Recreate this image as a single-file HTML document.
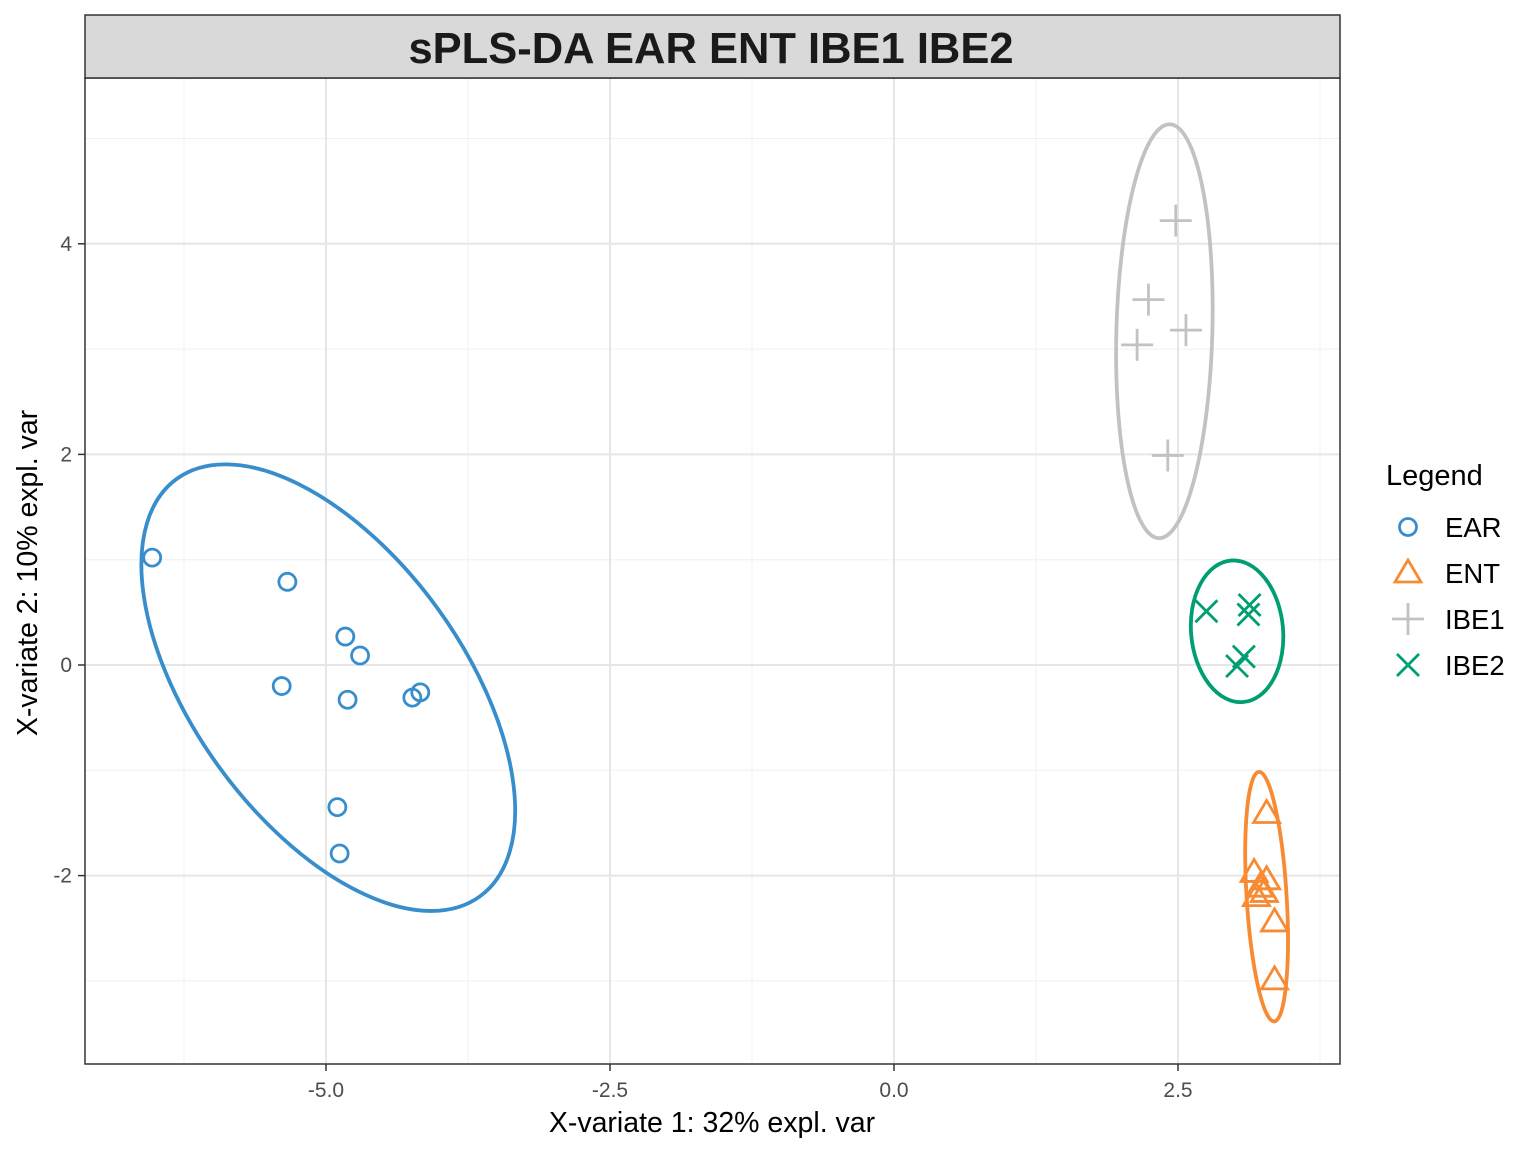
<!DOCTYPE html>
<html><head><meta charset="utf-8"><style>
body{margin:0;background:#fff}
svg text{font-family:"Liberation Sans",Arial,sans-serif}
</style></head><body>
<svg id="chart" width="1536" height="1152" viewBox="0 0 1536 1152" xmlns="http://www.w3.org/2000/svg">
<rect width="1536" height="1152" fill="#fff"/>
<g id="grid"></g>
<g id="ellipses"></g>
<g id="points"></g>
<rect x="85" y="78" width="1255" height="986" fill="none" stroke="#333" stroke-width="1.5"/>
<rect x="85" y="15" width="1255" height="63" fill="#d9d9d9" stroke="#333" stroke-width="1.5"/>
<text x="711" y="63" text-anchor="middle" font-size="43.5" font-weight="bold" fill="#1a1a1a">sPLS-DA EAR ENT IBE1 IBE2</text>
<g id="axes"></g>
<text x="712" y="1132" text-anchor="middle" font-size="28.5" fill="#000">X-variate 1: 32% expl. var</text>
<text transform="translate(37,573) rotate(-90)" text-anchor="middle" font-size="28.5" fill="#000">X-variate 2: 10% expl. var</text>
<g id="legend">
<text x="1386" y="485" font-size="29" fill="#000">Legend</text>
</g>
</svg>
<script>
const xTicks=[-5,-2.5,0,2.5];
const xTickLabels=["-5.0","-2.5","0.0","2.5"];
const xMinor=[-6.25,-3.75,-1.25,1.25,3.75];
const yTicks=[-2,0,2,4];
const yTickLabels=["-2","0","2","4"];
const yMinor=[-3,-1,1,3,5];
const groups=["EAR","ENT","IBE1","IBE2"];
const colors=["#388ECC","#F68B33","#C2C2C2","#009E73"];
const earX=[-6.53,-5.34,-4.83,-4.70,-5.39,-4.81,-4.24,-4.17,-4.90,-4.88];
const earY=[1.02,0.79,0.27,0.09,-0.20,-0.33,-0.31,-0.26,-1.35,-1.79];
const entX=[3.28,3.17,3.28,3.22,3.19,3.26,3.35,3.35];
const entY=[-1.41,-1.97,-2.04,-2.11,-2.20,-2.16,-2.44,-2.99];
const ibe1X=[2.48,2.24,2.57,2.14,2.41];
const ibe1Y=[4.22,3.47,3.18,3.04,1.99];
const ibe2X=[2.75,3.13,3.12,3.08,3.02];
const ibe2Y=[0.51,0.57,0.48,0.08,-0.01];
// ellipses: center x, center y (data), rx, ry (px), rotation deg
const ellCX=[-4.98,3.28,2.38,3.02];
const ellCY=[-0.215,-2.20,3.17,0.32];
const ellRX=[135,20,48,46];
const ellRY=[258,125,207,71];
const ellRot=[-36,-3.5,1.5,-5];

const NS="http://www.w3.org/2000/svg";
const sx=v=>894+v*113.6, sy=v=>665-v*105.3;
function mk(t,a,p){const e=document.createElementNS(NS,t);for(const k in a)e.setAttribute(k,a[k]);p.appendChild(e);return e;}
const grid=document.getElementById('grid'),axes=document.getElementById('axes');
xMinor.forEach(v=>{const l=mk('line',{x1:sx(v),x2:sx(v),y1:78,y2:1064,stroke:'#f0f0f0','stroke-width':1},grid);

});
yMinor.forEach(v=>{const l=mk('line',{x1:85,x2:1340,y1:sy(v),y2:sy(v),stroke:'#f0f0f0','stroke-width':1},grid);

});
xTicks.forEach((v,i)=>{const l=mk('line',{x1:sx(v),x2:sx(v),y1:78,y2:1064,stroke:'#e6e6e6','stroke-width':2},grid);


const t=mk('line',{x1:sx(v),x2:sx(v),y1:1064,y2:1071,stroke:'#333','stroke-width':1.5},axes);


const tx=mk('text',{x:sx(v),y:1097,'text-anchor':'middle','font-size':21,fill:'#4d4d4d'},axes);tx.textContent=xTickLabels[i];

});
yTicks.forEach((v,i)=>{const l=mk('line',{x1:85,x2:1340,y1:sy(v),y2:sy(v),stroke:'#e6e6e6','stroke-width':2},grid);


const t=mk('line',{x1:78,x2:85,y1:sy(v),y2:sy(v),stroke:'#333','stroke-width':1.5},axes);


const tx=mk('text',{x:72,y:sy(v)+7,'text-anchor':'end','font-size':21,fill:'#4d4d4d'},axes);tx.textContent=yTickLabels[i];

});
const eg=document.getElementById('ellipses');
groups.forEach((g,i)=>{const cx=sx(ellCX[i]),cy=sy(ellCY[i]);
const e=mk('ellipse',{cx:cx,cy:cy,rx:ellRX[i],ry:ellRY[i],transform:`rotate(${ellRot[i]} ${cx} ${cy})`,fill:'none',stroke:colors[i],'stroke-width':3.8},eg);

});
function sym(k,x,y,p){const c=colors[k];let e;
if(k===0)e=mk('circle',{cx:x,cy:y,r:8.5,fill:'none',stroke:c,'stroke-width':2.8},p);
else if(k===1)e=mk('polygon',{points:`${x},${y-13} ${x-13},${y+9} ${x+13},${y+9}`,fill:'none',stroke:c,'stroke-width':2.8},p);
else if(k===2)e=mk('path',{d:`M${x-16} ${y}H${x+16}M${x} ${y-16}V${y+16}`,stroke:c,'stroke-width':2.8},p);
else e=mk('path',{d:`M${x-11} ${y-11}L${x+11} ${y+11}M${x+11} ${y-11}L${x-11} ${y+11}`,stroke:c,'stroke-width':2.8},p);
return e;}
const pg=document.getElementById('points');
[[earX,earY],[entX,entY],[ibe1X,ibe1Y],[ibe2X,ibe2Y]].forEach((d,k)=>{d[0].forEach((v,j)=>{const e=sym(k,sx(v),sy(d[1][j]),pg);

});});
const lg=document.getElementById('legend');
groups.forEach((g,i)=>{const y=527+i*46;const e=sym(i,1408,y,lg);


const t=mk('text',{x:1445,y:y+10,'font-size':27.5,fill:'#000'},lg);t.textContent=g;

});
</script>
</body></html>
